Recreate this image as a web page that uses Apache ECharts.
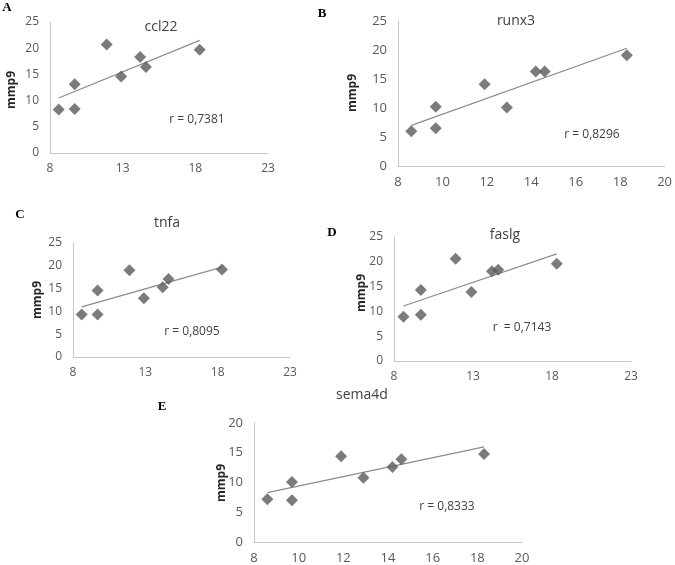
<!DOCTYPE html>
<html>
<head>
<meta charset="utf-8">
<script src="https://cdn.jsdelivr.net/npm/echarts@6/dist/echarts.min.js"></script>
<style>
html,body{margin:0;padding:0;background:#fff;}
#c{width:675px;height:565px;}
</style>
</head>
<body>
<div id="c"></div>
<script>
// shared x values (same in all panels)
var xVals = [8.6, 9.7, 9.7, 11.9, 12.9, 14.2, 14.6, 18.3];
// mmp9 values per panel
var ccl22 = [8.3, 8.4, 13.1, 20.7, 14.6, 18.3, 16.4, 19.7];
var runx3 = [6.0, 6.5, 10.2, 14.1, 10.1, 16.3, 16.3, 19.1];
var tnfa = [9.3, 9.3, 14.6, 19.0, 12.9, 15.3, 17.1, 19.2];
var faslg = [8.9, 9.3, 14.3, 20.6, 13.9, 18.1, 18.4, 19.6];
var sema4d = [7.2, 7.0, 10.1, 14.4, 10.8, 12.6, 13.9, 14.8];
// trend line endpoints: [x, y]
var trendCcl22 = [[8.6, 10.5], [18.3, 21.5]];
var trendRunx3 = [[8.6, 7.0], [18.3, 20.3]];
var trendTnfa = [[8.6, 11.0], [18.3, 19.7]];
var trendFaslg = [[8.6, 11.1], [18.3, 21.6]];
var trendSema4d = [[8.6, 8.3], [18.3, 16.0]];
// labels
var panelNames = ['ccl22', 'runx3', 'tnfa', 'faslg', 'sema4d'];
var panelLetters = ['A', 'B', 'C', 'D', 'E'];
var rLabels = ['r = 0,7381', 'r = 0,8296', 'r = 0,8095', 'r  = 0,7143', 'r = 0,8333'];
var yName = 'mmp9';
// axis ranges per panel: [xmin, xmax, xinterval, ymax]
var xMin = [8, 8, 8, 8, 8];
var xMax = [23, 20, 23, 23, 20];
var xStep = [5, 2, 5, 5, 2];
var yMax = [25, 25, 25, 25, 20];

var yData = [ccl22, runx3, tnfa, faslg, sema4d];
var trends = [trendCcl22, trendRunx3, trendTnfa, trendFaslg, trendSema4d];

// layout (pixels)
var grids = [
  {left: 50, top: 22, width: 218, height: 131},
  {left: 398, top: 21, width: 268, height: 145},
  {left: 73, top: 243, width: 217, height: 114},
  {left: 394, top: 237, width: 237, height: 124},
  {left: 254, top: 423, width: 268, height: 119}
];
var labelSize = [12, 13, 12, 12, 13];
var titlePos = [[161, 27], [516, 21], [167, 223], [505, 235], [362, 395]];
var letterPos = [[7, 8], [322, 14], [20, 215], [332, 233], [162, 407]];
var rPos = [[197, 120], [592, 135], [192, 332], [522, 328], [447, 507]];
var yNamePos = [[12, 90], [353, 93], [38, 300], [362, 293], [222, 483]];

var font = '"Open Sans", "Noto Sans", sans-serif';
var xAxes = [], yAxes = [], series = [], graphics = [];
for (var i = 0; i < 5; i++) {
  xAxes.push({
    gridIndex: i, type: 'value', min: xMin[i], max: xMax[i], interval: xStep[i],
    axisLine: {show: true, lineStyle: {color: '#c8c8c8', width: 1}},
    axisTick: {show: false}, splitLine: {show: false},
    axisLabel: {color: '#595959', fontSize: labelSize[i], fontFamily: font, margin: 10}
  });
  yAxes.push({
    gridIndex: i, type: 'value', min: 0, max: yMax[i], interval: 5,
    axisLine: {show: true, lineStyle: {color: '#c8c8c8', width: 1}},
    axisTick: {show: false}, splitLine: {show: false},
    axisLabel: {color: '#595959', fontSize: labelSize[i], fontFamily: font, margin: 11}
  });
  var pts = xVals.map(function (x, k) { return [x, yData[i][k]]; });
  series.push({
    type: 'line', xAxisIndex: i, yAxisIndex: i, data: trends[i],
    showSymbol: false, symbol: 'none', lineStyle: {color: '#8c8c8c', width: 1.2},
    z: 2, silent: true
  });
  series.push({
    type: 'scatter', xAxisIndex: i, yAxisIndex: i, data: pts,
    symbol: 'diamond', symbolSize: 12, itemStyle: {color: '#5a5a5a'}, z: 3
  });
  graphics.push({type: 'text', x: titlePos[i][0], y: titlePos[i][1],
    style: {text: panelNames[i], fill: '#404040', font: '14px ' + font, textAlign: 'center', textVerticalAlign: 'middle'}});
  graphics.push({type: 'text', x: letterPos[i][0], y: letterPos[i][1],
    style: {text: panelLetters[i], fill: '#000', font: 'bold 13px "Liberation Serif", serif', textAlign: 'center', textVerticalAlign: 'middle'}});
  graphics.push({type: 'text', x: rPos[i][0], y: rPos[i][1],
    style: {text: rLabels[i], fill: '#404040', font: '12px ' + font, textAlign: 'center', textVerticalAlign: 'middle'}});
  graphics.push({type: 'text', x: yNamePos[i][0], y: yNamePos[i][1], rotation: Math.PI / 2,
    style: {text: yName, fill: '#262626', font: 'bold 12px ' + font, textAlign: 'center', textVerticalAlign: 'middle'}});
}

var chart = echarts.init(document.getElementById('c'), null, {renderer: 'canvas'});
chart.setOption({
  animation: false,
  backgroundColor: '#ffffff',
  grid: grids,
  xAxis: xAxes,
  yAxis: yAxes,
  series: series,
  graphic: graphics
});
</script>
</body>
</html>
